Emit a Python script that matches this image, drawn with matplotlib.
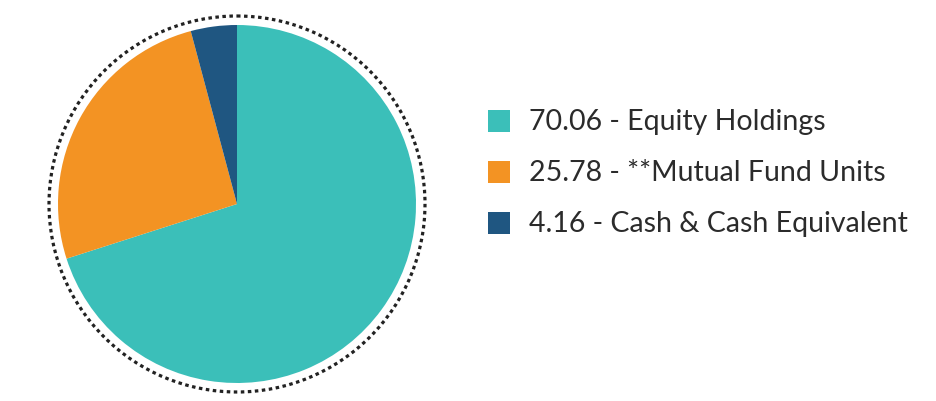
import matplotlib.pyplot as plt
from matplotlib.patches import Circle, Rectangle

# data
labels = ['Equity Holdings', '**Mutual Fund Units', 'Cash & Cash Equivalent']
values = [70.06, 25.78, 4.16]
colors = ['#3BBFB9', '#F39323', '#1F5681']

fig = plt.figure(figsize=(9.37, 4.02), dpi=100)
ax = fig.add_axes([0, 0, 1, 1])

cx, cy, r = 237, 205, 179
# y axis is flipped below, so angles run the other way here
ax.pie(values, colors=colors, startangle=-90, counterclock=True,
       center=(cx, cy), radius=r, frame=True,
       wedgeprops=dict(linewidth=0))
ax.set_xlim(0, 937)
ax.set_ylim(402, 0)
ax.set_aspect('equal')
ax.axis('off')

ax.add_patch(Circle((cx, cy), 188, fill=False, edgecolor='#222222',
                    linewidth=2.3, linestyle=(0, (1.1, 1.1))))

# legend
for i, (lab, val, col) in enumerate(zip(labels, values, colors)):
    y = 122 + i * 51
    ax.add_patch(Rectangle((488, y - 11), 22, 22, facecolor=col, edgecolor='none'))
    ax.text(529, y, f'{val:.2f} - {lab}', fontsize=20.5, color='#2b2b2b',
            va='center', ha='left', family='Lato')

fig.savefig('out.png', dpi=100)
